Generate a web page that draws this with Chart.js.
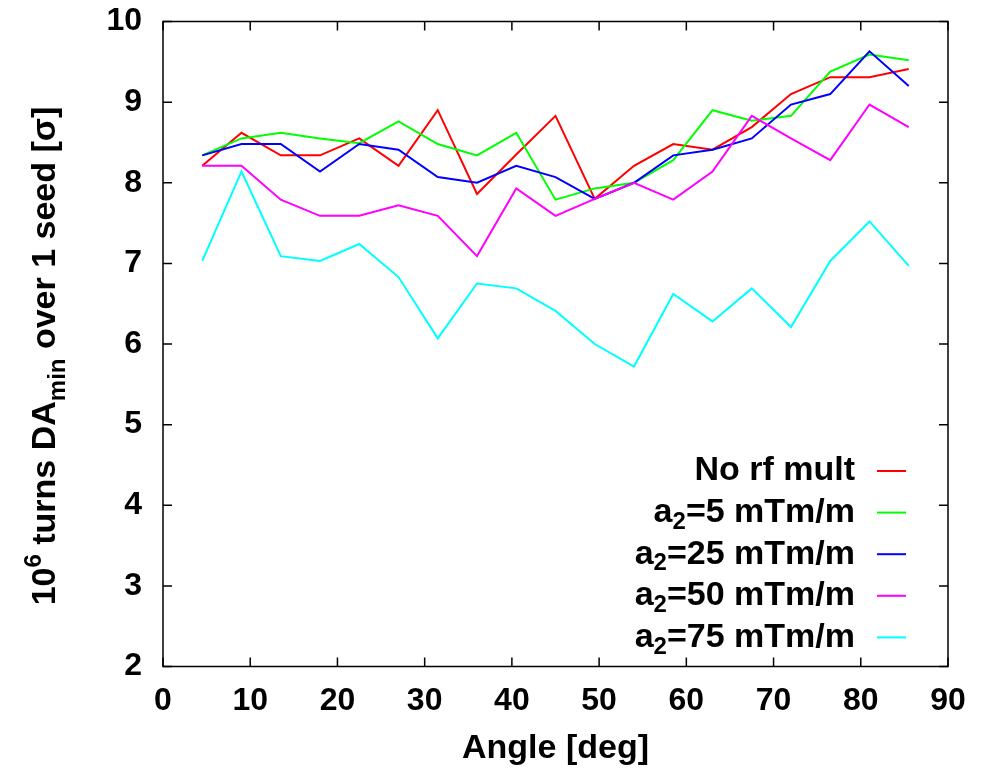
<!DOCTYPE html>
<html>
<head>
<meta charset="utf-8">
<script src="https://cdn.jsdelivr.net/npm/chart.js@4.4.1/dist/chart.umd.min.js"></script>
<style>
  html, body { margin: 0; padding: 0; background: #fff; }
  #daChart { display: block; }
</style>
</head>
<body>
<canvas id="daChart" width="992" height="773"></canvas>
<script>
const angles = [4.5, 9, 13.5, 18, 22.5, 27, 31.5, 36, 40.5, 45, 49.5, 54, 58.5, 63, 67.5, 72, 76.5, 81, 85.5];

const noRfMult = [8.21, 8.62, 8.34, 8.34, 8.55, 8.21, 8.90, 7.86, 8.35, 8.83, 7.80, 8.21, 8.48, 8.41, 8.69, 9.10, 9.31, 9.31, 9.41];
const a2_5 = [8.34, 8.55, 8.62, 8.55, 8.49, 8.76, 8.48, 8.34, 8.62, 7.79, 7.93, 8.00, 8.28, 8.90, 8.77, 8.83, 9.38, 9.59, 9.52];
const a2_25 = [8.34, 8.48, 8.48, 8.14, 8.48, 8.41, 8.07, 8.00, 8.21, 8.07, 7.80, 8.00, 8.34, 8.41, 8.55, 8.97, 9.10, 9.63, 9.20];
const a2_50 = [8.21, 8.21, 7.79, 7.59, 7.59, 7.72, 7.59, 7.09, 7.93, 7.59, 7.80, 8.00, 7.79, 8.14, 8.83, 8.55, 8.28, 8.97, 8.69];
const a2_75 = [7.03, 8.14, 7.09, 7.03, 7.24, 6.83, 6.07, 6.75, 6.69, 6.41, 6.00, 5.72, 6.62, 6.28, 6.69, 6.21, 7.03, 7.52, 6.97];

const seriesNames = ['No rf mult', 'a_{2}=5 mTm/m', 'a_{2}=25 mTm/m', 'a_{2}=50 mTm/m', 'a_{2}=75 mTm/m'];
const seriesData = [noRfMult, a2_5, a2_25, a2_50, a2_75];
const seriesColors = ['#ff0000', '#00ff00', '#0000ff', '#ff00ff', '#00ffff'];

const yTitle = '10^{6} turns DA_{min} over 1 seed [\u03c3]';
const xTitle = 'Angle [deg]';

const FONT = '"Liberation Sans", Arial, Helvetica, sans-serif';

// split "a_{2}=5" into pieces: normal / sub / sup
function parseRich(str) {
    const parts = [];
    const re = /([_^])\{([^}]*)\}/g;
    let last = 0, m;
    while ((m = re.exec(str)) !== null) {
        if (m.index > last) parts.push({ t: str.slice(last, m.index), k: 'n' });
        parts.push({ t: m[2], k: m[1] === '_' ? 'sub' : 'sup' });
        last = re.lastIndex;
    }
    if (last < str.length) parts.push({ t: str.slice(last), k: 'n' });
    return parts;
}

function richWidth(ctx, parts, size) {
    let w = 0;
    parts.forEach(p => {
        ctx.font = 'bold ' + (p.k === 'n' ? size : Math.round(size * 0.7)) + 'px ' + FONT;
        w += ctx.measureText(p.t).width;
    });
    return w;
}

function drawRich(ctx, parts, x, y, size) {
    let cx = x;
    parts.forEach(p => {
        const s = p.k === 'n' ? size : Math.round(size * 0.7);
        const dy = p.k === 'sub' ? size * 0.28 : p.k === 'sup' ? -size * 0.42 : 0;
        ctx.font = 'bold ' + s + 'px ' + FONT;
        ctx.fillText(p.t, cx, y + dy);
        cx += ctx.measureText(p.t).width;
    });
}

const framePlugin = {
    id: 'frame',
    afterDraw(chart) {
        const ctx = chart.ctx;
        const a = chart.chartArea;
        const xs = chart.scales.x, ys = chart.scales.y;
        const tl = 9;
        ctx.save();
        ctx.strokeStyle = '#000';
        ctx.lineWidth = 1.5;
        ctx.beginPath();
        xs.ticks.forEach(t => {
            const px = xs.getPixelForValue(t.value);
            ctx.moveTo(px, a.bottom); ctx.lineTo(px, a.bottom - tl);
            ctx.moveTo(px, a.top); ctx.lineTo(px, a.top + tl);
        });
        ys.ticks.forEach(t => {
            const py = ys.getPixelForValue(t.value);
            ctx.moveTo(a.left, py); ctx.lineTo(a.left + tl, py);
            ctx.moveTo(a.right, py); ctx.lineTo(a.right - tl, py);
        });
        ctx.stroke();
        ctx.strokeRect(a.left, a.top, a.right - a.left, a.bottom - a.top);

        // legend: text right aligned, line sample on the right
        const legSize = 34;
        const textRight = 855, lineX0 = 877, lineX1 = 906;
        const legY0 = 471, legStep = 41.6;
        ctx.fillStyle = '#000';
        ctx.textBaseline = 'middle';
        ctx.textAlign = 'left';
        chart.data.datasets.forEach((ds, i) => {
            const y = legY0 + i * legStep;
            const parts = parseRich(ds.label);
            const w = richWidth(ctx, parts, legSize);
            drawRich(ctx, parts, textRight - w, y, legSize);
            ctx.strokeStyle = ds.borderColor;
            ctx.lineWidth = 2;
            ctx.beginPath();
            ctx.moveTo(lineX0, y); ctx.lineTo(lineX1, y);
            ctx.stroke();
        });

        // rotated y title
        const tSize = 34;
        const parts = parseRich(yTitle);
        const tw = richWidth(ctx, parts, tSize);
        ctx.translate(55, 356);
        ctx.rotate(-Math.PI / 2);
        ctx.textBaseline = 'alphabetic';
        drawRich(ctx, parts, -tw / 2, 0, tSize);
        ctx.restore();
    }
};

const ctx = document.getElementById('daChart').getContext('2d');
const daChart = new Chart(ctx, {
    type: 'line',
    data: {
        datasets: seriesNames.map((name, i) => ({
            label: name,
            data: angles.map((a, j) => ({ x: a, y: seriesData[i][j] })),
            borderColor: seriesColors[i],
            backgroundColor: seriesColors[i],
            borderWidth: 2,
            pointRadius: 0,
            tension: 0,
            fill: false,
            order: seriesNames.length - i
        }))
    },
    options: {
        responsive: false,
        animation: false,
        layout: { padding: { top: 21.5, right: 44, left: 0, bottom: 0 } },
        plugins: {
            legend: { display: false },
            tooltip: { enabled: false }
        },
        scales: {
            x: {
                type: 'linear',
                min: 0,
                max: 90,
                ticks: { stepSize: 10, color: '#000', font: { family: FONT, size: 32, weight: 'bold' }, padding: 15, maxRotation: 0 },
                grid: { display: false, drawTicks: false },
                border: { display: false },
                title: { display: true, text: xTitle, color: '#000', font: { family: FONT, size: 34, weight: 'bold' }, padding: { top: 0, bottom: 4 } },
                afterFit(scale) {
                    scale.height = 106.5;
                    scale.paddingLeft = 0;
                    scale.paddingRight = 0;
                }
            },
            y: {
                min: 2,
                max: 10,
                ticks: { stepSize: 1, color: '#000', font: { family: FONT, size: 32, weight: 'bold' }, padding: 21 },
                grid: { display: false, drawTicks: false },
                border: { display: false },
                afterFit(scale) {
                    scale.width = 163;
                    scale.paddingTop = 0;
                    scale.paddingBottom = 0;
                }
            }
        }
    },
    plugins: [framePlugin]
});
</script>
</body>
</html>
